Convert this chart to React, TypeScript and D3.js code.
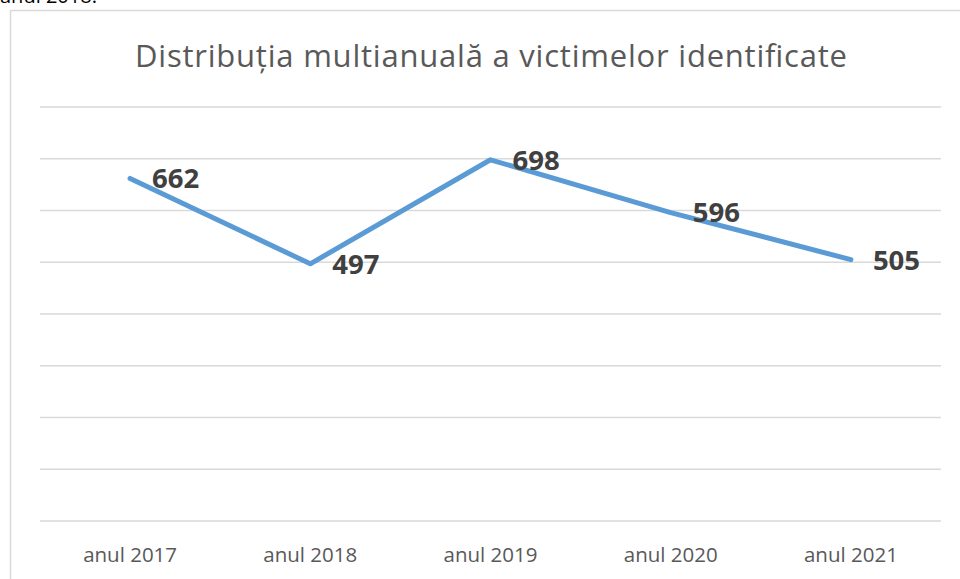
import React from "react";
import * as d3 from "d3";

const categories = ["anul 2017", "anul 2018", "anul 2019", "anul 2020", "anul 2021"];
const values = [662, 497, 698, 596, 505];
const yTicks = [0, 100, 200, 300, 400, 500, 600, 700, 800];
const title = "Distribuția multianuală a victimelor identificate";
const topText = "anul 2018.";

export default function App() {
  const W = 960, H = 579;
  const left = 40, right = 941, top = 107, bottom = 521;
  const x = d3.scaleBand<string>().domain(categories).range([left, right]);
  const y = d3.scaleLinear().domain([0, 800]).range([bottom, top]);
  const cx = (c: string) => (x(c) as number) + x.bandwidth() / 2;
  const line = d3.line<number>()
    .x((_, i) => cx(categories[i]))
    .y((d) => y(d));
  const font = "'Open Sans', sans-serif";
  return (
    <svg width={W} height={H} style={{ position: "absolute", left: 0, top: 0, background: "#fff" }}>
      <text x={0} y={3} fontFamily={font} fontSize={20} fill="#000">{topText}</text>
      <rect x={10.5} y={10.5} width={W} height={H} fill="#fff" stroke="#d9d9d9" strokeWidth={1.5} />
      <text x={491} y={67} textAnchor="middle" fontFamily={font} fontSize={31} textLength={712} lengthAdjust="spacing" fill="#595959">{title}</text>
      {yTicks.map((t) => (
        <line key={t} x1={left} x2={right} y1={y(t)} y2={y(t)} stroke="#d9d9d9" strokeWidth={1.5} />
      ))}
      <path d={line(values) || ""} fill="none" stroke="#5b9bd5" strokeWidth={5} strokeLinejoin="round" strokeLinecap="round" />
      {values.map((v, i) => (
        <text key={i} x={cx(categories[i]) + 22} y={y(v)} dy="0.36em" fontFamily={font} fontWeight="bold" fontSize={27.5} fill="#404040">{v}</text>
      ))}
      {categories.map((c) => (
        <text key={c} x={cx(c)} y={562} textAnchor="middle" fontFamily={font} fontSize={20.5} fill="#595959">{c}</text>
      ))}
    </svg>
  );
}
